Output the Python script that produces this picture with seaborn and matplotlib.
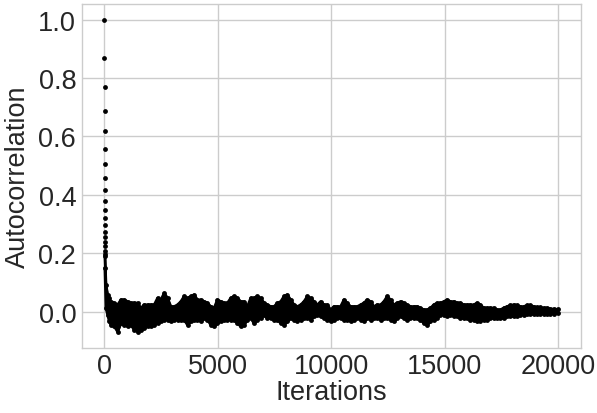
import matplotlib
matplotlib.use("Agg")
import matplotlib.pyplot as plt
import seaborn as sns
import pandas as pd

# ---- data ----
# first lags, drawn as individual dots
early_lags = list(range(19))
early_acf = [1.0, 0.869, 0.77, 0.687, 0.62, 0.557, 0.507, 0.458, 0.416, 0.38,
             0.349, 0.32, 0.297, 0.274, 0.255, 0.238, 0.223, 0.209, 0.198]

# dense tail of the autocorrelation: upper / lower edge of the band of dots
band_lags = [20, 66, 140, 213, 286, 433, 580, 726, 873, 1020, 1166, 1313, 1460,
             1606, 1753, 1900, 2047, 2193, 2340, 2486, 2633, 2780, 2927, 3073,
             3220, 3366,
             3513, 3660, 3807, 3953, 4100, 4247, 4393, 4540, 4687, 4833, 4980,
             5127, 5273, 5420, 5567, 5713, 5860, 6007, 6153, 6300, 6447, 6593,
             6740, 6887,
             7035, 7181, 7328, 7475, 7621, 7768, 7915, 8061, 8208, 8355, 8501,
             8648, 8795, 8941, 9088, 9235, 9381, 9528, 9675, 9821, 9968, 10115,
             10261, 10408,
             10556, 10703, 10849, 10996, 11143, 11289, 11436, 11583, 11729,
             11876, 12023, 12169, 12316, 12463, 12609, 12756, 12903, 13049,
             13196, 13343, 13489, 13636, 13783, 13929,
             14077, 14223, 14370, 14517, 14663, 14810, 14957, 15103, 15250,
             15397, 15543, 15690, 15837, 15983, 16130, 16277, 16423, 16570,
             16717, 16863, 17010, 17157, 17303, 17450,
             17599, 17745, 17892, 18039, 18185, 18332, 18479, 18625, 18772,
             18919, 19065, 19212, 19359, 19505, 19652, 19799, 19999]
band_upper = [0.19, 0.092, 0.057, 0.046, 0.034, 0.029, 0.023, 0.040, 0.040, 0.034,
              0.029, 0.029, 0.029, 0.012, 0.023, 0.023, 0.023, 0.023, 0.046,
              0.040, 0.063, 0.046, 0.017, 0.017, 0.023, 0.034,
              0.052, 0.046, 0.052, 0.057, 0.040, 0.040, 0.034, 0.029, 0.017,
              0.012, 0.040, 0.034, 0.029, 0.029, 0.046, 0.052, 0.046, 0.034,
              0.034, 0.017, 0.046, 0.046, 0.052, 0.046,
              0.029, 0.023, 0.017, 0.017, 0.029, 0.034, 0.052, 0.057, 0.040,
              0.023, 0.017, 0.023, 0.034, 0.052, 0.046, 0.034, 0.023, 0.034,
              0.023, 0.023, 0.006, 0.017, 0.017, 0.017,
              0.040, 0.029, 0.017, 0.017, 0.017, 0.023, 0.029, 0.040, 0.034,
              0.017, 0.023, 0.023, 0.034, 0.052, 0.040, 0.023, 0.029, 0.034,
              0.029, 0.023, 0.017, 0.017, 0.017, 0.012,
              0.006, 0.006, 0.012, 0.023, 0.029, 0.029, 0.034, 0.040, 0.034,
              0.034, 0.029, 0.029, 0.023, 0.023, 0.023, 0.023, 0.029, 0.023,
              0.012, 0.012, 0.012, 0.012, 0.006, 0.006,
              0.012, 0.017, 0.021, 0.023, 0.021, 0.017, 0.017, 0.021, 0.021,
              0.017, 0.014, 0.014, 0.012, 0.012, 0.009, 0.008, 0.007]
band_lower = [0.15, 0.012, -0.011, -0.034, -0.046, -0.051, -0.069, -0.040, -0.046,
              -0.051, -0.046, -0.063, -0.069, -0.063, -0.057, -0.051, -0.051,
              -0.046, -0.040, -0.034, -0.028, -0.028, -0.034, -0.028, -0.028,
              -0.028,
              -0.028, -0.046, -0.034, -0.028, -0.028, -0.034, -0.023, -0.028,
              -0.046, -0.051, -0.040, -0.034, -0.028, -0.028, -0.028, -0.028,
              -0.040, -0.051, -0.046, -0.028, -0.023, -0.040, -0.028, -0.023,
              -0.011, -0.023, -0.023, -0.028, -0.028, -0.040, -0.046, -0.034,
              -0.023, -0.028, -0.034, -0.028, -0.023, -0.023, -0.028, -0.017,
              -0.011, -0.017, -0.023, -0.028, -0.034, -0.028, -0.023, -0.023,
              -0.028, -0.028, -0.034, -0.028, -0.023, -0.028, -0.034, -0.023,
              -0.028, -0.023, -0.023, -0.028, -0.023, -0.023, -0.028, -0.034,
              -0.023, -0.017, -0.023, -0.028, -0.023, -0.023, -0.023, -0.028,
              -0.040, -0.046, -0.034, -0.028, -0.023, -0.011, -0.011, -0.017,
              -0.011, -0.017, -0.017, -0.023, -0.023, -0.023, -0.028, -0.028,
              -0.034, -0.034, -0.028, -0.028, -0.023, -0.023, -0.023, -0.023,
              -0.023, -0.017, -0.017, -0.017, -0.014, -0.011, -0.011, -0.009,
              -0.009, -0.009, -0.009, -0.009, -0.007, -0.007, -0.007, -0.007,
              -0.006]

x_ticks = [0, 5000, 10000, 15000, 20000]
y_ticks = [0.0, 0.2, 0.4, 0.6, 0.8, 1.0]

# ---- style ----
sns.set_theme(context="notebook", style="whitegrid")
plt.rcParams["font.family"] = ["Liberation Sans", "DejaVu Sans"]

fig, ax = plt.subplots(figsize=(5.97, 4.14), dpi=100)
fig.subplots_adjust(left=0.137, right=0.973, top=0.988, bottom=0.158)

early = pd.DataFrame({"lag": early_lags, "acf": early_acf})
band = pd.DataFrame({"lag": band_lags, "upper": band_upper, "lower": band_lower})

ax.fill_between(band["lag"], band["lower"], band["upper"], color="black",
                edgecolor="black", linewidth=1.0, zorder=3)
for col in ["upper", "lower"]:
    sns.lineplot(data=band, x="lag", y=col, color="black", linewidth=2.0,
                 marker="o", markersize=3.5, markeredgewidth=0, ax=ax,
                 zorder=3, solid_joinstyle="round", solid_capstyle="round")
sns.scatterplot(data=early, x="lag", y="acf", color="black", s=12,
                linewidth=0, marker="o", ax=ax, zorder=4)

ax.set_xlim(-1000, 21000)
ax.set_ylim(-0.1235, 1.0535)
ax.set_xticks(x_ticks)
ax.set_xticklabels([str(t) for t in x_ticks])
ax.set_yticks(y_ticks)
ax.set_yticklabels([f"{t:.1f}" for t in y_ticks])
ax.tick_params(labelsize=19.5, colors="#262626", length=0, pad=4)
ax.set_xlabel("Iterations", fontsize=19.5, color="#262626", labelpad=0)
ax.set_ylabel("Autocorrelation", fontsize=19.5, color="#262626", labelpad=5)
for s in ax.spines.values():
    s.set_color("#cccccc")
    s.set_linewidth(1.0)
ax.grid(color="#cccccc", linewidth=1.0)

fig.savefig("out.png", dpi=100)
